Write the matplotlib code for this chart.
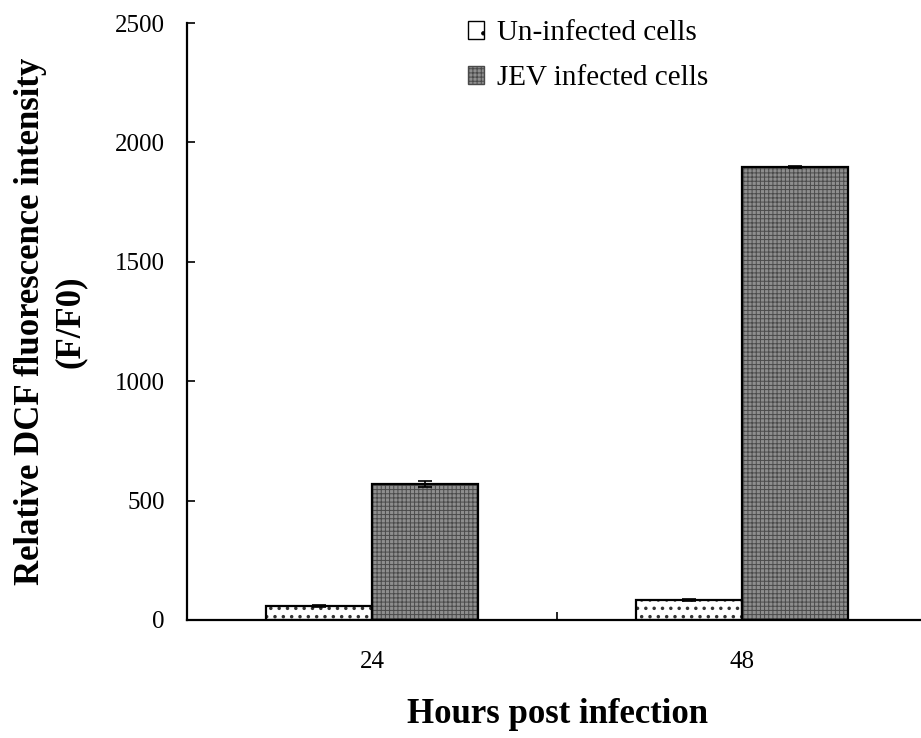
import numpy as np
import matplotlib
matplotlib.use("Agg")
import matplotlib.pyplot as plt
from matplotlib.patches import Patch

# data
hours = ["24", "48"]
uninfected = [58, 85]
uninfected_err = [3, 5]
jev = [570, 1897]
jev_err = [12, 6]

plt.rcParams['font.family'] = ['Liberation Serif', 'DejaVu Serif']
plt.rcParams['hatch.linewidth'] = 0.7

fig = plt.figure(figsize=(9.21, 7.38), dpi=100)
ax = fig.add_axes([187/921, 118/738, 740/921, 597/738])

x = np.arange(len(hours))
w = 0.287

# un-infected: white with sparse dots
dots = ax.bar(x - w/2, uninfected, w, color='white', edgecolor='#333333', hatch='..',
              linewidth=0, zorder=2)
for p in dots:
    if hasattr(p, 'set_hatch_linewidth'):
        p.set_hatch_linewidth(1.3)
ax.bar(x - w/2, uninfected, w, color='none', edgecolor='black', linewidth=1.6, zorder=3)
# JEV infected: dense grey checker
ax.bar(x + w/2, jev, w, color='#8e8e8e', edgecolor='#4a4a4a', hatch='++++', linewidth=0, zorder=2)
ax.bar(x + w/2, jev, w, color='none', edgecolor='black', linewidth=1.6, zorder=3)

ax.errorbar(x - w/2, uninfected, yerr=uninfected_err, fmt='none', ecolor='black',
            elinewidth=1.2, capsize=5, capthick=1.2, zorder=4)
ax.errorbar(x + w/2, jev, yerr=jev_err, fmt='none', ecolor='black',
            elinewidth=1.2, capsize=5, capthick=1.2, zorder=4)

ax.set_xlim(-0.5, 1.5)
ax.set_ylim(0, 2500)
ax.set_yticks([0, 500, 1000, 1500, 2000, 2500])
ax.set_xticks(x)
ax.set_xticklabels(hours)
ax.set_xticks([0.5], minor=True)
ax.tick_params(axis='x', which='major', length=0, labelsize=18, pad=22)
ax.tick_params(axis='x', which='minor', length=6, width=1.2, direction='in')
ax.tick_params(axis='y', length=6, width=1.2, direction='in', labelsize=18, pad=16)

for s in ['top', 'right']:
    ax.spines[s].set_visible(False)
ax.spines['left'].set_linewidth(1.6)
ax.spines['bottom'].set_linewidth(1.6)

ax.set_xlabel('Hours post infection', fontsize=25, fontweight='bold', labelpad=18)
ax.set_ylabel('Relative DCF fluorescence intensity\n(F/F0)', fontsize=25,
              fontweight='bold', labelpad=20, linespacing=1.3)

handles = [Patch(facecolor='white', edgecolor='black', hatch='.', linewidth=1.0),
           Patch(facecolor='#8e8e8e', edgecolor='#4a4a4a', hatch='++++', linewidth=1.0)]
leg = fig.legend(handles, ['Un-infected cells', 'JEV infected cells'],
                 loc='upper left', bbox_to_anchor=(442/921, 1 + 6/738),
                 frameon=False, fontsize=21, handlelength=0.55, handleheight=0.55,
                 handletextpad=0.45, labelspacing=0.65)

fig.savefig('out.png', dpi=100)
